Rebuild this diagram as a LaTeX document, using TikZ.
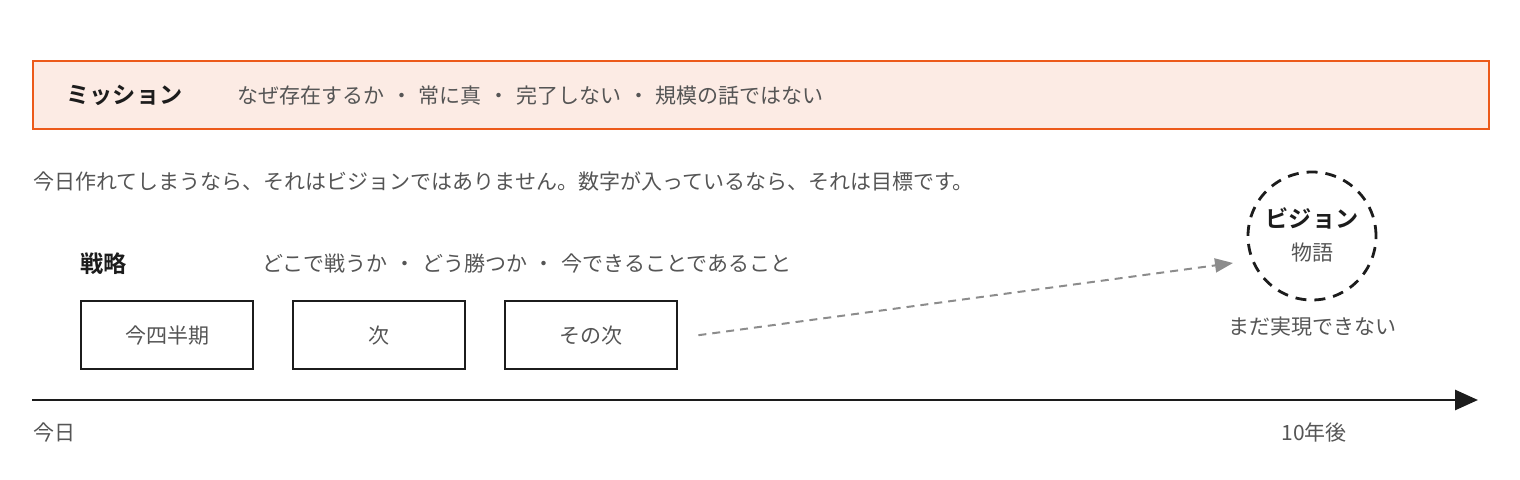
\documentclass[tikz,border=0pt]{standalone}
\usepackage{fontspec}
\setmainfont{Noto Sans CJK JP}[BoldFont={Noto Sans CJK JP Bold}]
\usepackage{tikz}
\usetikzlibrary{positioning, arrows.meta}
\definecolor{orng}{HTML}{EC5A1A}
\definecolor{orngfill}{HTML}{FCEBE4}
\definecolor{txtgray}{HTML}{555555}
\definecolor{ink}{HTML}{1C1C1C}
\definecolor{dashgray}{HTML}{8C8C8C}
\newcommand{\dotsep}{\hspace{0.32em}・\hspace{0.32em}}

\begin{document}
\begin{tikzpicture}[x=0.5pt, y=-0.5pt, node distance=18.8pt]
        \tikzstyle{label} = [text=txtgray, inner sep=0pt, font=\fontsize{10.5}{12}\selectfont]
        \tikzstyle{head} = [text=ink, inner sep=0pt, font=\fontsize{11.6}{14}\selectfont\bfseries]
        \tikzstyle{box} = [rectangle, draw=ink, line width=1.2pt, minimum width=86pt, minimum height=34pt, text=txtgray, font=\fontsize{10.5}{12}\selectfont]
        \tikzstyle{band} = [rectangle, draw=orng, fill=orngfill, line width=1.2pt, minimum width=728pt, minimum height=34pt]
        \tikzstyle{goal} = [circle, draw=ink, line width=1.4pt, dash pattern=on 5.5pt off 4pt, minimum size=64pt]
        \tikzstyle{timeline} = [draw=ink, line width=1.4pt, -{Triangle[length=11.5pt, width=10pt]}]
        \tikzstyle{path} = [draw=dashgray, line width=1pt, dash pattern=on 4pt off 3pt, -{Triangle[length=9pt, width=7pt]}]

        \useasboundingbox (0,0) rectangle (1520,480);

        \node (mission) [band, anchor=north west] at (32,60) {};
        \node (mtitle) [head, anchor=west] at (66,95) {ミッション};
        \node (mtext) [label, anchor=west] at (237,96) {なぜ存在するか\dotsep 常に真\dotsep 完了しない\dotsep 規模の話ではない};
        \node (note) [label, anchor=west] at (33,182) {今日作れてしまうなら、それはビジョンではありません。数字が入っているなら、それは目標です。};

        \node (stitle) [head, anchor=west] at (80,264) {戦略};
        \node (stext) [label, anchor=west] at (262,264) {どこで戦うか\dotsep どう勝つか\dotsep 今できることであること};
        \node (q1) [box, anchor=north west] at (80,300) {今四半期};
        \node (q2) [box, right=of q1] {次};
        \node (q3) [box, right=of q2] {その次};

        \node (vision) [goal] at (1312,236) {};
        \node (vtitle) [head] at (1312,218) {ビジョン};
        \node (vsub) [label] at (1312,253) {物語};
        \node (vnote) [label] at (1312,327) {まだ実現できない};
        \coordinate (vin) at (1233,263);
        \draw [path] ([xshift=10pt]q3.east) -- (vin);

        \coordinate (now) at (32,400);
        \coordinate (later) at (1478,400);
        \draw [timeline] (now) -- (later);
        \node (today) [label, anchor=west] at (33,433) {今日};
        \node (tenyr) [label] at (1314,433) {10年後};
\end{tikzpicture}
\end{document}
